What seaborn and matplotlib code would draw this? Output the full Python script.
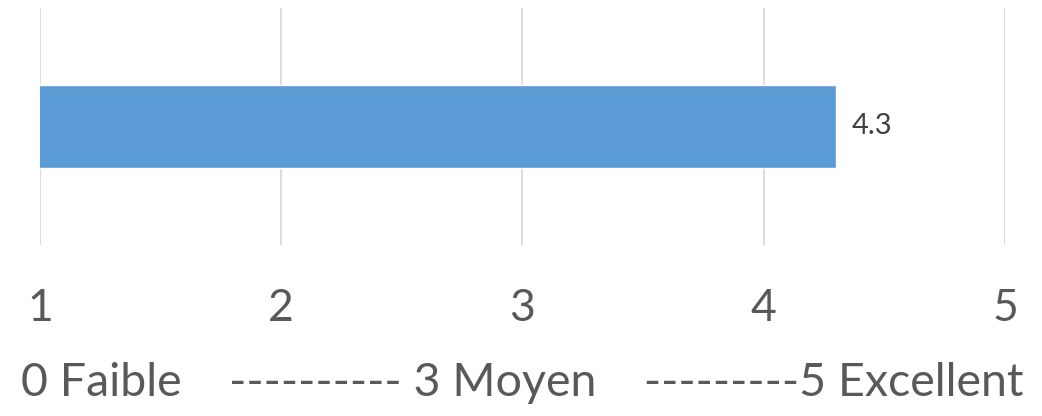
import pandas as pd
import numpy as np
import seaborn as sns
import matplotlib.pyplot as plt

# data
categories = [""]
scores = [4.3]
tick_values = [1, 2, 3, 4, 5]
axis_title = "0 Faible    ---------- 3 Moyen    ---------5 Excellent"

df = pd.DataFrame({"categorie": categories, "score": scores})

sns.set_style("white")
plt.rcParams['font.family'] = ['Lato', 'DejaVu Sans']

fig = plt.figure(figsize=(10.42, 4.16), dpi=100)
ax = fig.add_axes([40 / 1042, 1 - 245 / 416, 965 / 1042, 237 / 416])

sns.barplot(data=df, x="score", y="categorie", orient="h", color="#5B9BD5",
            saturation=1, width=0.354, ax=ax, zorder=3)

ax.set_xlim(1, 5)
ax.set_ylim(0.5, -0.5)
ax.set_xticks(tick_values)
ax.set_xticklabels([str(t) for t in tick_values])
ax.set_yticks([])
ax.set_ylabel("")
ax.grid(axis="x", color="#D9D9D9", linewidth=1.3, zorder=0)
ax.set_axisbelow(True)
sns.despine(ax=ax, left=True, bottom=True)
ax.tick_params(axis="x", length=0, pad=31, labelsize=32, labelcolor="#595959")
ax.set_xlabel(axis_title, fontsize=33.5, color="#595959", labelpad=24)

# data label next to the bar end
for cont in ax.containers:
    ax.bar_label(cont, labels=[f"{v}" for v in scores], padding=11,
                 fontsize=21, color="#404040")

fig.savefig("out.png", dpi=100)
